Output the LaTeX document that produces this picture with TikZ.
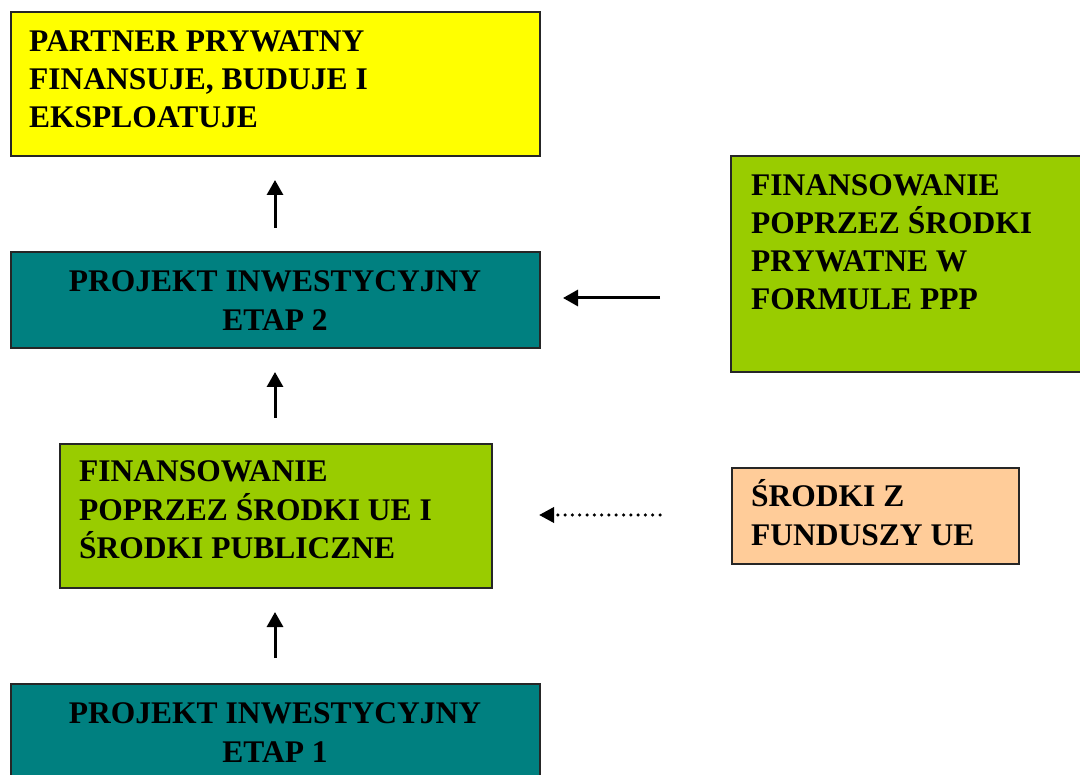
\documentclass[tikz,border=0pt]{standalone}
\usepackage{fontspec}
\setmainfont{Liberation Serif}
\usetikzlibrary{arrows.meta}
\definecolor{boxyellow}{HTML}{FFFF00}
\definecolor{boxteal}{HTML}{008080}
\definecolor{boxgreen}{HTML}{99CC00}
\definecolor{boxpeach}{HTML}{FFCC99}
\tikzset{
  panel/.style={draw=black!85, line width=2pt, anchor=north west, inner sep=0pt},
  label/.style={font=\fontsize{31.5}{38}\selectfont\bfseries, inner sep=0pt},
  upflow/.style={line width=3pt, -{Triangle[length=15pt,width=16pt]}},
  dotflow/.style={line width=3.5pt, line cap=round, dash pattern=on 0pt off 7.3pt,
    -{Triangle[length=15pt,width=15pt]}}
}
\begin{document}
\begin{tikzpicture}[x=1pt,y=-1pt]
\useasboundingbox (0,0) rectangle (1080,775);
\clip (0,0) rectangle (1080,775);
\fill[white] (0,0) rectangle (1080,775);

% panels
\node[panel, fill=boxyellow, minimum width=529pt, minimum height=144pt] (partner) at (10,11) {};
\node[panel, fill=boxteal, minimum width=529pt, minimum height=96pt] (etap2) at (10,251) {};
\node[panel, fill=boxgreen, minimum width=400pt, minimum height=216pt] (ppp) at (730,155) {};
\node[panel, fill=boxgreen, minimum width=432pt, minimum height=144pt] (ue) at (59,443) {};
\node[panel, fill=boxpeach, minimum width=287pt, minimum height=96pt] (fundusze) at (731,467) {};
\node[panel, fill=boxteal, minimum width=529pt, minimum height=140pt] (etap1) at (10,683) {};

% texts
\node[label, anchor=base west] (t1a) at (29,52) {PARTNER PRYWATNY};
\node[label, anchor=base west] (t1b) at (29,90) {FINANSUJE, BUDUJE I};
\node[label, anchor=base west] (t1c) at (29,128) {EKSPLOATUJE};

\node[label, anchor=base] (t2a) at (275,292) {PROJEKT INWESTYCYJNY};
\node[label, anchor=base] (t2b) at (275,331) {ETAP 2};

\node[label, anchor=base west] (t3a) at (751,196) {FINANSOWANIE};
\node[label, anchor=base west] (t3b) at (751,234) {POPRZEZ ŚRODKI};
\node[label, anchor=base west] (t3c) at (751,272) {PRYWATNE W};
\node[label, anchor=base west] (t3d) at (751,310) {FORMULE PPP};

\node[label, anchor=base west] (t4a) at (79,482) {FINANSOWANIE};
\node[label, anchor=base west] (t4b) at (79,521) {POPRZEZ ŚRODKI UE I};
\node[label, anchor=base west] (t4c) at (79,559) {ŚRODKI PUBLICZNE};

\node[label, anchor=base west] (t5a) at (751,507) {ŚRODKI Z};
\node[label, anchor=base west] (t5b) at (751,546) {FUNDUSZY UE};

\node[label, anchor=base] (t6a) at (275,723) {PROJEKT INWESTYCYJNY};
\node[label, anchor=base] (t6b) at (275,762) {ETAP 1};

% arrow ends
\coordinate (a1s) at (275,228); \coordinate (a1e) at (275,180);
\coordinate (a2s) at (275,418); \coordinate (a2e) at (275,372);
\coordinate (a3s) at (275,658); \coordinate (a3e) at (275,612);
\coordinate (h1s) at (660,298); \coordinate (h1e) at (563,298);
\coordinate (h2s) at (660,515); \coordinate (h2e) at (539,515);

\draw[upflow] (a1s) -- (a1e);
\draw[upflow] (a2s) -- (a2e);
\draw[upflow] (a3s) -- (a3e);
\draw[upflow] (h1s) -- (h1e);
\draw[dotflow] (h2s) -- (h2e);
\end{tikzpicture}
\end{document}
